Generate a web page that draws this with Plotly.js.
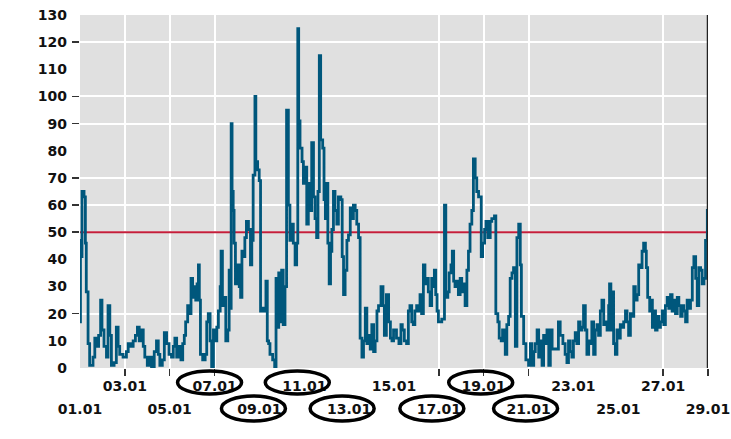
<!DOCTYPE html>
<html>
<head>
<meta charset="utf-8">
<script src="https://cdn.plot.ly/plotly-3.0.1.min.js"></script>
<style>html,body{margin:0;padding:0;background:#fff;}#chart{width:731px;height:439px;}</style>
</head>
<body>
<div id="chart"></div>
<script>
// x values: day of January (1 = 01.01 00:00), y values
const days = [
1.00,1.02,1.05,1.09,1.18,1.24,1.28,1.36,1.43,1.58,1.66,1.73,1.83,1.92,1.98,2.07,2.18,2.25,2.33,2.40,2.52,2.62,2.70,2.77,2.92,
3.07,3.15,3.27,3.37,3.47,3.56,3.64,3.74,3.82,3.89,4.00,4.09,4.19,4.31,4.41,4.49,4.56,4.67,4.76,4.86,4.97,
5.08,5.16,5.23,5.31,5.41,5.50,5.58,5.65,5.71,5.80,5.87,5.95,6.02,6.10,6.16,6.22,6.28,6.32,6.37,6.47,6.58,6.65,6.72,6.80,6.87,6.95,
7.02,7.10,7.17,7.25,7.29,7.35,7.44,7.50,7.59,7.65,7.69,7.74,7.78,7.83,7.87,7.93,
8.02,8.10,8.16,8.22,8.28,8.35,8.42,8.51,8.60,8.66,8.72,8.80,8.84,8.92,8.99,9.05,9.14,9.23,9.29,9.35,9.41,9.47,9.59,9.68,9.74,9.80,9.86,9.91,9.99,
10.06,10.14,10.21,10.29,10.36,10.44,10.51,10.59,10.66,10.71,10.75,10.81,10.90,10.96,11.03,11.11,11.18,11.26,11.33,11.41,11.48,11.55,11.61,11.67,11.73,11.82,11.88,11.94,
12.00,12.05,12.11,12.17,12.23,12.30,12.37,12.45,12.52,12.63,12.69,12.75,12.82,12.90,12.97,13.05,13.12,13.19,13.27,13.34,13.42,13.49,13.57,13.64,13.72,13.79,13.87,13.94,
14.01,14.09,14.16,14.24,14.31,14.42,14.51,14.57,14.66,14.76,14.84,14.91,14.98,
15.11,15.22,15.31,15.37,15.46,15.56,15.64,15.71,15.79,15.86,15.93,16.01,16.08,16.16,16.23,16.31,16.38,16.46,16.53,16.61,16.68,16.75,16.80,16.86,16.92,16.98,
17.13,17.25,17.31,17.40,17.46,17.54,17.60,17.66,17.72,17.80,17.87,17.95,18.02,18.10,18.17,18.25,18.32,18.39,18.47,18.54,18.62,18.69,18.77,18.89,18.95,
19.04,19.10,19.18,19.29,19.36,19.48,19.54,19.63,19.69,19.78,19.84,19.96,20.03,20.11,20.18,20.26,20.33,20.41,20.48,20.56,20.63,20.68,20.78,20.88,
21.00,21.08,21.15,21.23,21.30,21.38,21.45,21.52,21.60,21.67,21.75,21.82,21.90,21.97,22.05,
22.18,22.33,22.41,22.53,22.63,22.71,22.78,22.86,22.93,23.00,23.08,23.15,23.23,23.30,23.38,23.45,23.53,23.60,23.68,23.75,23.82,23.90,23.97,
24.05,24.12,24.20,24.27,24.35,24.42,24.50,24.57,24.61,24.67,24.73,24.79,24.87,24.94,25.02,25.09,25.17,25.24,25.32,25.39,25.46,25.54,25.61,25.69,25.76,25.84,25.91,25.99,
26.06,26.13,26.21,26.25,26.31,26.40,26.46,26.52,26.58,26.66,26.73,26.81,26.88,26.96,27.03,27.10,27.18,27.25,27.33,27.40,27.48,27.55,27.63,27.70,27.78,27.85,27.92,
28.00,28.07,28.15,28.22,28.30,28.37,28.45,28.52,28.59,28.67,28.74,28.82,28.89,28.97,29.00
];
const values = [
17,47,41,65,63,46,28,9,1,4,11,8,12,25,14,8,4,23,12,1,2,15,8,5,4,
6,9,8,10,12,15,10,14,8,4,1,4,0,6,10,5,1,3,13,9,5,
4,8,11,4,8,3,9,12,17,23,20,33,26,30,25,31,38,25,5,3,5,17,20,10,0,14,
10,15,21,30,43,23,26,10,14,36,22,90,65,58,46,31,
38,30,26,43,41,48,54,51,38,47,71,100,76,73,69,21,22,21,32,10,9,5,3,0,33,15,35,17,36,
16,30,95,60,47,53,46,38,46,125,91,81,76,68,74,53,68,58,83,63,55,48,65,115,84,81,62,55,
68,46,31,43,51,65,58,53,63,62,41,27,36,47,49,59,55,60,58,53,48,11,4,10,22,9,12,7,
16,6,10,21,23,30,23,12,27,17,11,10,14,
11,9,16,14,10,9,21,23,17,16,21,23,21,27,20,38,31,33,28,23,33,30,36,27,21,17,
18,60,26,28,35,38,43,32,30,32,27,33,28,31,23,36,43,53,58,77,70,65,63,41,46,
51,54,48,54,55,56,20,17,11,10,14,5,16,19,33,35,37,8,48,53,38,19,9,3,
1,9,1,6,9,14,4,10,1,12,9,14,1,14,7,
7,17,12,9,5,2,10,6,4,10,13,9,17,14,15,23,14,5,10,9,17,5,14,
16,12,21,25,16,17,14,23,31,14,28,9,5,14,11,16,15,17,21,17,12,20,19,30,25,27,38,37,
43,46,43,37,26,21,25,15,21,14,19,15,17,21,16,23,26,22,27,21,25,20,26,23,19,23,21,
17,25,22,25,37,41,33,23,37,36,31,33,47,58,50
];
const limitValue = 50;

// tick labels
const xTickDays   = [1,3,5,7,9,11,13,15,17,19,21,23,25,27,29];
const xTickLabels = ["01.01","03.01","05.01","07.01","09.01","11.01","13.01","15.01","17.01","19.01","21.01","23.01","25.01","27.01","29.01"];
const xGridDays   = [3,5,7,17,19,21,27,29];
const yTickVals   = [0,10,20,30,40,50,60,70,80,90,100,110,120,130];
const yTickLabels = ["0","10","20","30","40","50","60","70","80","90","100","110","120","130"];
const yGridVals   = [20,50,60,70,90,100,120];
// labels highlighted with an ellipse: [day, row (0 upper, 1 lower), pixel shift]
const circledLabels = [[7,0,-5],[9,1,-6],[11,0,-7],[13,1,-7],[17,1,-7],[19,0,-3],[21,1,-3]];

const upperDays = xTickDays.filter((d,i)=>i%2===1), upperText = xTickLabels.filter((d,i)=>i%2===1);
const lowerDays = xTickDays.filter((d,i)=>i%2===0), lowerText = xTickLabels.filter((d,i)=>i%2===0);

const tickFont = {family:"DejaVu Sans", size:14, color:"#111", weight:"bold"};
const xRange = [xTickDays[0], xTickDays[xTickDays.length-1]];
const yRange = [yTickVals[0], yTickVals[yTickVals.length-1]];

const traces = [
  {x:xRange, y:[limitValue,limitValue], type:"scatter", mode:"lines", line:{color:"#c41e3a", width:2}, hoverinfo:"skip"},
  {x:days, y:values, type:"scatter", mode:"lines", line:{color:"#00577c", width:2.8, shape:"hv"}},
  {x:[null], y:[null], xaxis:"x2", yaxis:"y", type:"scatter", mode:"lines", hoverinfo:"skip"},
  {x:[null], y:[null], xaxis:"x3", yaxis:"y", type:"scatter", mode:"lines", hoverinfo:"skip"},
  {x:[null], y:[null], xaxis:"x", yaxis:"y2", type:"scatter", mode:"lines", hoverinfo:"skip"}
];

const shapes = [
  {type:"line", xref:"x", yref:"paper", x0:xRange[1], x1:xRange[1], y0:0, y1:1, line:{color:"#222", width:2.5}, layer:"above"}
];
circledLabels.forEach(([d,row,shift])=>{
  shapes.push({type:"circle", xref:"x", xsizemode:"pixel", xanchor:d, x0:shift-32, x1:shift+32,
    yref:"paper", ysizemode:"pixel", yanchor:0, y0: row===0 ? -26 : -53, y1: row===0 ? -3 : -28,
    line:{color:"#000", width:3.5}, fillcolor:"rgba(0,0,0,0)", layer:"above"});
});

const layout = {
  width:731, height:439,
  margin:{l:80, r:23, t:15, b:71, pad:0},
  paper_bgcolor:"#ffffff", plot_bgcolor:"#e0e0e0",
  showlegend:false,
  xaxis:{range:xRange, tickmode:"array", tickvals:xGridDays, showticklabels:false, ticks:"outside", ticklen:7, tickwidth:1.5, tickcolor:"#333",
         showgrid:true, gridcolor:"#ffffff", gridwidth:2, zeroline:false, showline:false, fixedrange:true},
  xaxis2:{overlaying:"x", anchor:"y", range:xRange, tickmode:"array", tickvals:upperDays, ticktext:upperText, ticks:"", ticklabelstandoff:8,
          showgrid:false, zeroline:false, showline:false, tickfont:tickFont},
  xaxis3:{overlaying:"x", anchor:"y", range:xRange, tickmode:"array", tickvals:lowerDays, ticktext:lowerText, ticks:"", ticklabelstandoff:31,
          showgrid:false, zeroline:false, showline:false, tickfont:tickFont},
  yaxis:{range:yRange, tickmode:"array", tickvals:yGridVals, showticklabels:false, ticks:"outside", ticklen:7, tickwidth:1.5, tickcolor:"#333",
         showgrid:true, gridcolor:"#ffffff", gridwidth:2, zeroline:false, showline:false, fixedrange:true},
  yaxis2:{overlaying:"y", anchor:"x", side:"left", range:yRange, tickmode:"array", tickvals:yTickVals, ticktext:yTickLabels, ticks:"", ticklabelstandoff:12,
          showgrid:false, zeroline:false, showline:false, tickfont:tickFont},
  shapes:shapes
};

Plotly.newPlot("chart", traces, layout, {staticPlot:true, displayModeBar:false});
</script>
</body>
</html>
